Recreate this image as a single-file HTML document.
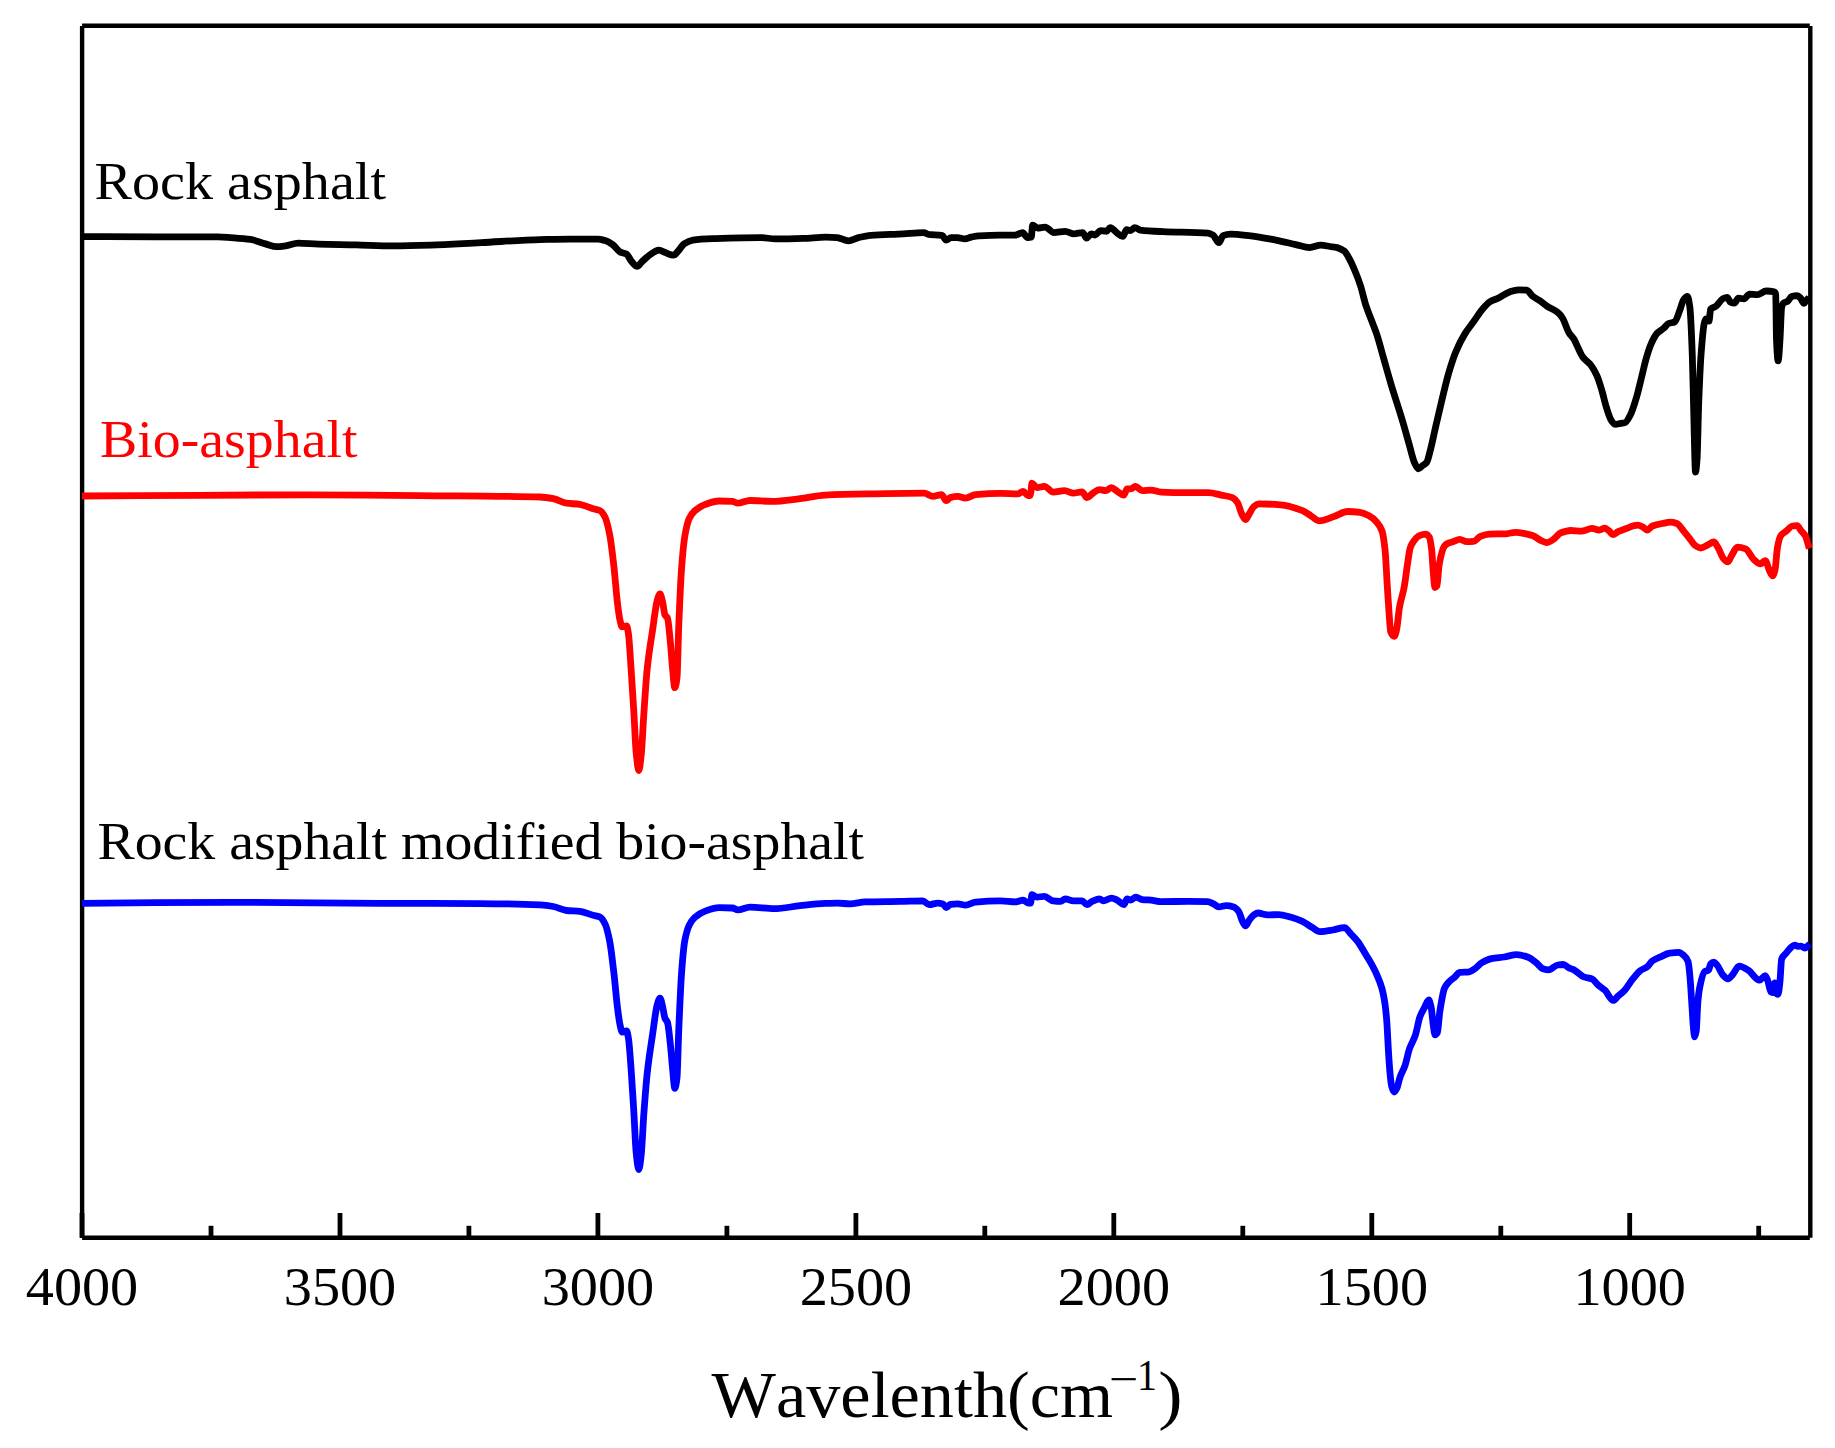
<!DOCTYPE html>
<html lang="en"><head><meta charset="utf-8"><title>FTIR spectra</title>
<style>
html,body{margin:0;padding:0;background:#fff;}
body{width:1835px;height:1448px;overflow:hidden;}
svg{display:block;}
text{font-family:"Liberation Serif",serif;font-variant-ligatures:none;}
</style></head><body>
<svg width="1835" height="1448" viewBox="0 0 1835 1448">
<rect x="0" y="0" width="1835" height="1448" fill="#fff"/>
<g id="frame" stroke="#000" stroke-width="4.4" fill="none">
<line x1="82.1" y1="26" x2="82.1" y2="1237.8"/>
<line x1="82.1" y1="25.7" x2="1809.8" y2="25.7"/>
<line x1="1810.3" y1="26.1" x2="1810.3" y2="1237.8"/>
<line x1="82.1" y1="1237.8" x2="1809.8" y2="1237.8"/>
<line x1="82.0" y1="1237.8" x2="82.0" y2="1213" stroke-width="4.8"/>
<line x1="211.0" y1="1237.8" x2="211.0" y2="1225.8" stroke-width="4.8"/>
<line x1="340.0" y1="1237.8" x2="340.0" y2="1213" stroke-width="4.8"/>
<line x1="468.9" y1="1237.8" x2="468.9" y2="1225.8" stroke-width="4.8"/>
<line x1="597.9" y1="1237.8" x2="597.9" y2="1213" stroke-width="4.8"/>
<line x1="726.9" y1="1237.8" x2="726.9" y2="1225.8" stroke-width="4.8"/>
<line x1="855.9" y1="1237.8" x2="855.9" y2="1213" stroke-width="4.8"/>
<line x1="984.8" y1="1237.8" x2="984.8" y2="1225.8" stroke-width="4.8"/>
<line x1="1113.8" y1="1237.8" x2="1113.8" y2="1213" stroke-width="4.8"/>
<line x1="1242.8" y1="1237.8" x2="1242.8" y2="1225.8" stroke-width="4.8"/>
<line x1="1371.8" y1="1237.8" x2="1371.8" y2="1213" stroke-width="4.8"/>
<line x1="1500.8" y1="1237.8" x2="1500.8" y2="1225.8" stroke-width="4.8"/>
<line x1="1629.7" y1="1237.8" x2="1629.7" y2="1213" stroke-width="4.8"/>
<line x1="1758.7" y1="1237.8" x2="1758.7" y2="1225.8" stroke-width="4.8"/>
</g>
<g id="curves">
<path d="M82.0,236.6 C106.4,236.7 130.8,236.9 155.2,236.9 C176.1,236.9 197.0,236.9 217.9,236.9 C222.1,236.9 226.2,237.3 230.4,237.6 C237.1,238.1 243.8,238.5 250.5,239.4 C255.5,240.1 260.5,242.6 265.5,243.9 C269.3,244.9 273.0,246.6 276.8,246.6 C279.7,246.6 282.7,246.2 285.6,245.9 C289.8,245.4 293.9,243.1 298.1,243.1 C304.8,243.1 311.5,243.9 318.2,244.1 C330.7,244.5 343.3,244.6 355.8,244.9 C368.3,245.2 380.9,245.9 393.4,245.9 C405.9,245.9 418.5,245.5 431.0,245.1 C447.7,244.6 464.4,243.4 481.1,242.6 C500.7,241.6 520.4,240.1 540.0,239.6 C550.0,239.4 560.1,239.1 570.1,239.1 C579.3,239.1 588.5,239.1 597.7,239.1 C600.2,239.1 602.7,239.9 605.2,240.6 C607.7,241.3 610.2,242.9 612.7,244.6 C615.2,246.3 617.7,250.9 620.2,252.1 C622.3,253.1 624.4,253.0 626.5,254.1 C628.2,255.0 629.8,259.6 631.5,261.4 C633.4,263.5 635.4,266.4 637.3,266.4 C638.7,266.4 640.1,263.5 641.5,262.2 C643.6,260.2 645.7,257.9 647.8,256.4 C651.6,253.7 655.3,250.1 659.1,250.1 C661.2,250.1 663.2,251.9 665.3,252.6 C668.1,253.6 670.8,255.2 673.6,255.2 C675.0,255.2 676.5,252.9 677.9,251.4 C680.0,249.3 682.0,245.3 684.1,243.9 C687.0,242.0 690.0,240.5 692.9,240.1 C700.4,239.1 708.0,238.9 715.5,238.6 C730.5,238.1 745.6,237.6 760.6,237.6 C765.6,237.6 770.6,238.9 775.6,238.9 C784.8,238.9 794.0,238.7 803.2,238.4 C810.7,238.2 818.3,237.1 825.8,237.1 C829.6,237.1 833.3,237.3 837.1,237.6 C840.9,237.9 844.6,240.9 848.4,240.9 C851.7,240.9 855.1,238.4 858.4,237.6 C862.6,236.6 866.7,235.6 870.9,235.3 C881.8,234.4 892.6,234.4 903.5,233.8 C910.2,233.4 916.9,232.6 923.6,232.6 C925.3,232.6 926.9,234.0 928.6,234.3 C933.2,235.0 937.8,234.6 942.4,235.6 C943.6,235.9 944.9,240.1 946.1,240.1 C947.8,240.1 949.4,237.6 951.1,237.6 C953.2,237.6 955.3,237.6 957.4,237.6 C959.9,237.6 962.4,238.9 964.9,238.9 C967.0,238.9 969.1,237.6 971.2,237.1 C973.7,236.6 976.2,236.0 978.7,235.8 C985.8,235.4 992.9,235.1 1000.0,235.1 C1005.0,235.1 1010.0,235.1 1015.0,235.1 C1017.5,235.1 1020.1,232.6 1022.6,232.6 C1024.3,232.6 1025.9,237.6 1027.6,237.6 C1028.8,237.6 1030.1,237.5 1031.3,237.1 C1031.7,237.0 1032.2,225.1 1032.6,225.1 C1034.3,225.1 1035.9,228.1 1037.6,228.1 C1040.1,228.1 1042.6,227.1 1045.1,227.1 C1048.0,227.1 1051.0,232.6 1053.9,232.6 C1057.7,232.6 1061.4,231.3 1065.2,231.3 C1068.1,231.3 1071.1,233.8 1074.0,233.8 C1076.9,233.8 1079.8,232.6 1082.7,232.6 C1084.0,232.6 1085.2,238.1 1086.5,238.1 C1088.2,238.1 1089.8,233.8 1091.5,233.8 C1092.8,233.8 1094.0,235.1 1095.3,235.1 C1097.0,235.1 1098.6,230.6 1100.3,230.6 C1102.4,230.6 1104.4,231.3 1106.5,231.3 C1107.8,231.3 1109.0,227.6 1110.3,227.6 C1112.4,227.6 1114.5,231.1 1116.6,232.6 C1118.7,234.0 1120.7,236.4 1122.8,236.4 C1124.1,236.4 1125.3,229.6 1126.6,229.6 C1127.9,229.6 1129.1,230.6 1130.4,230.6 C1131.9,230.6 1133.4,227.6 1134.9,227.6 C1136.7,227.6 1138.6,229.8 1140.4,230.1 C1147.9,231.1 1155.5,231.3 1163.0,231.6 C1178.0,232.3 1193.1,231.9 1208.1,233.1 C1209.8,233.2 1211.4,234.1 1213.1,235.1 C1215.0,236.3 1217.0,242.6 1218.9,242.6 C1220.3,242.6 1221.7,236.1 1223.1,235.6 C1225.6,234.6 1228.1,234.1 1230.6,234.1 C1237.3,234.1 1244.0,235.1 1250.7,235.8 C1259.1,236.7 1267.4,238.5 1275.8,240.1 C1282.5,241.4 1289.1,243.1 1295.8,244.6 C1300.4,245.6 1305.0,247.6 1309.6,247.6 C1313.4,247.6 1317.1,245.1 1320.9,245.1 C1323.9,245.1 1327.0,246.0 1330.0,246.5 C1332.4,246.9 1334.8,247.0 1337.2,247.6 C1339.6,248.2 1342.0,249.3 1344.4,251.2 C1346.2,252.6 1348.0,256.3 1349.8,259.6 C1351.6,262.8 1353.3,267.0 1355.1,271.3 C1356.9,275.6 1358.7,280.2 1360.5,285.7 C1362.3,291.2 1364.1,299.9 1365.9,305.4 C1367.7,310.9 1369.5,315.0 1371.3,319.8 C1373.1,324.6 1374.9,328.7 1376.7,334.1 C1379.1,341.3 1381.5,350.9 1383.9,359.3 C1386.3,367.7 1388.7,376.4 1391.1,384.4 C1394.7,396.3 1398.2,406.6 1401.8,418.5 C1404.2,426.5 1406.6,435.3 1409.0,443.7 C1410.8,450.0 1412.6,458.6 1414.4,462.5 C1415.7,465.3 1417.0,468.8 1418.3,468.8 C1419.7,468.8 1421.1,466.7 1422.5,465.6 C1423.9,464.6 1425.2,464.2 1426.6,462.5 C1427.9,460.9 1429.3,454.1 1430.6,449.1 C1432.4,442.4 1434.1,433.4 1435.9,425.7 C1438.0,416.6 1440.1,407.5 1442.2,398.8 C1444.3,390.1 1446.4,380.9 1448.5,373.7 C1450.9,365.5 1453.3,357.9 1455.7,352.1 C1458.7,344.8 1461.7,339.0 1464.7,334.1 C1467.7,329.2 1470.7,325.8 1473.7,321.6 C1476.7,317.4 1479.6,312.5 1482.6,309.0 C1485.0,306.2 1487.4,303.3 1489.8,301.8 C1492.8,300.0 1495.8,299.4 1498.8,297.9 C1502.4,296.2 1506.0,293.1 1509.6,291.9 C1512.6,290.9 1515.5,289.8 1518.5,289.8 C1521.2,289.8 1523.9,289.9 1526.6,290.2 C1528.7,290.4 1530.8,294.8 1532.9,296.4 C1535.3,298.2 1537.7,299.3 1540.1,300.9 C1542.5,302.5 1544.9,304.7 1547.3,306.3 C1550.9,308.7 1554.4,309.6 1558.0,312.6 C1559.5,313.8 1561.0,315.7 1562.5,318.0 C1564.6,321.2 1566.7,328.9 1568.8,332.4 C1570.6,335.4 1572.4,336.5 1574.2,339.5 C1574.9,340.7 1575.7,342.7 1576.4,344.2 C1578.5,348.6 1580.6,354.1 1582.7,356.9 C1585.3,360.5 1588.0,361.4 1590.6,364.8 C1592.7,367.5 1594.9,371.2 1597.0,375.9 C1598.6,379.5 1600.2,384.9 1601.8,390.2 C1603.4,395.4 1604.9,402.9 1606.5,407.7 C1608.1,412.7 1609.7,418.1 1611.3,420.4 C1612.6,422.3 1614.0,424.4 1615.3,424.4 C1617.1,424.4 1619.0,423.6 1620.8,423.3 C1622.1,423.1 1623.5,423.1 1624.8,422.8 C1626.7,422.4 1628.5,418.4 1630.4,414.9 C1632.5,410.9 1634.6,403.7 1636.7,396.6 C1638.3,391.2 1639.9,383.9 1641.5,377.5 C1643.1,371.2 1644.6,363.9 1646.2,358.5 C1647.8,353.0 1649.4,347.9 1651.0,344.2 C1652.9,339.9 1654.7,336.0 1656.6,333.9 C1659.0,331.2 1661.3,330.4 1663.7,328.3 C1665.3,326.9 1666.9,324.2 1668.5,323.5 C1670.6,322.6 1672.7,322.9 1674.8,321.9 C1676.4,321.1 1678.0,314.8 1679.6,310.8 C1680.9,307.4 1682.3,301.4 1683.6,299.7 C1684.9,298.1 1686.2,296.5 1687.5,296.5 C1688.3,296.5 1689.1,301.6 1689.9,307.6 C1690.7,313.6 1691.5,333.6 1692.3,355.3 C1692.8,369.7 1693.4,399.5 1693.9,418.8 C1694.4,438.1 1695.0,472.0 1695.5,472.0 C1696.0,472.0 1696.6,465.7 1697.1,458.5 C1697.6,451.3 1698.2,416.9 1698.7,402.9 C1699.5,382.7 1700.2,365.8 1701.0,355.3 C1702.1,340.7 1703.1,328.1 1704.2,323.5 C1704.7,321.2 1705.3,318.8 1705.8,318.8 C1706.9,318.8 1707.9,321.2 1709.0,321.2 C1709.5,321.2 1710.1,309.9 1710.6,309.2 C1712.4,306.9 1714.3,307.5 1716.1,306.1 C1718.2,304.5 1720.4,300.0 1722.5,298.9 C1724.1,298.1 1725.6,297.3 1727.2,297.3 C1728.3,297.3 1729.3,301.6 1730.4,302.1 C1731.7,302.7 1733.1,303.2 1734.4,303.2 C1735.7,303.2 1737.1,298.1 1738.4,298.1 C1740.2,298.1 1742.1,298.9 1743.9,298.9 C1745.8,298.9 1747.6,294.1 1749.5,294.1 C1752.1,294.1 1754.8,294.6 1757.4,294.6 C1760.3,294.6 1763.3,291.0 1766.2,291.0 C1768.8,291.0 1771.5,291.2 1774.1,291.8 C1774.6,291.9 1775.2,292.4 1775.7,294.1 C1776.0,294.9 1776.2,333.2 1776.5,339.4 C1777.0,351.8 1777.6,360.9 1778.1,360.9 C1778.7,360.9 1779.4,348.6 1780.0,339.4 C1780.5,331.6 1781.1,309.9 1781.6,307.6 C1782.3,304.7 1782.9,303.4 1783.6,302.9 C1784.9,301.9 1786.3,302.1 1787.6,301.3 C1788.9,300.5 1790.3,296.9 1791.6,296.5 C1793.4,296.0 1795.3,295.7 1797.1,295.7 C1798.2,295.7 1799.4,296.9 1800.5,298.0 C1801.6,299.1 1802.8,303.4 1803.9,303.4 C1804.9,303.4 1805.8,301.1 1806.8,300.0 C1807.6,299.1 1808.4,298.3 1809.2,297.4" fill="none" stroke="#000000" stroke-width="6.8" stroke-linejoin="round" stroke-linecap="butt"/>
<path d="M82.0,496.0 C121.3,495.8 160.7,495.6 200.0,495.4 C236.7,495.2 273.3,494.8 310.0,494.8 C346.7,494.8 383.3,495.3 420.0,495.6 C460.0,496.0 500.0,495.9 540.0,497.0 C544.4,497.1 548.9,497.9 553.3,498.7 C557.7,499.5 562.1,502.6 566.5,503.2 C570.9,503.8 575.4,503.7 579.8,504.3 C584.2,504.9 588.7,507.4 593.1,508.7 C595.3,509.4 597.5,509.5 599.7,510.5 C601.5,511.3 603.4,513.9 605.2,517.5 C606.7,520.3 608.1,526.7 609.6,534.1 C611.1,541.5 612.5,554.4 614.0,567.3 C615.1,577.3 616.3,593.4 617.4,602.6 C618.3,609.7 619.1,616.7 620.0,620.3 C620.7,623.3 621.5,626.9 622.2,626.9 C623.7,626.9 625.1,625.8 626.6,625.8 C627.2,625.8 627.8,629.8 628.4,633.6 C629.3,639.3 630.2,656.0 631.1,668.9 C632.0,682.2 633.0,697.7 633.9,713.1 C634.7,725.8 635.4,745.3 636.2,752.9 C637.1,761.4 637.9,770.6 638.8,770.6 C639.6,770.6 640.4,762.3 641.2,755.1 C642.1,747.0 643.0,726.1 643.9,713.1 C645.0,697.2 646.1,679.5 647.2,668.9 C649.0,651.3 650.9,641.6 652.7,629.2 C654.2,619.0 655.7,605.4 657.2,600.4 C658.1,597.3 659.1,593.8 660.0,593.8 C660.9,593.8 661.8,598.9 662.7,602.6 C663.4,605.6 664.2,613.3 664.9,614.8 C665.8,616.6 666.6,616.2 667.5,618.1 C668.5,620.2 669.4,632.8 670.4,642.4 C671.1,649.7 671.9,661.6 672.6,668.9 C673.3,676.2 674.1,687.7 674.8,687.7 C675.5,687.7 676.3,683.7 677.0,677.8 C677.6,673.0 678.2,639.4 678.8,624.7 C679.7,602.7 680.6,581.8 681.5,569.5 C682.6,554.5 683.7,542.8 684.8,536.3 C686.3,527.7 687.7,521.7 689.2,518.6 C691.0,514.7 692.9,512.5 694.7,510.9 C698.4,507.7 702.1,505.6 705.8,504.3 C710.2,502.7 714.6,501.0 719.0,501.0 C723.4,501.0 727.9,501.1 732.3,501.4 C734.1,501.5 736.0,503.2 737.8,503.2 C741.9,503.2 745.9,500.5 750.0,500.5 C757.4,500.5 764.7,501.4 772.1,501.4 C781.4,501.4 790.7,499.7 800.0,498.6 C808.4,497.6 816.7,495.5 825.1,495.1 C841.8,494.3 858.5,494.1 875.2,493.8 C891.5,493.5 907.8,493.1 924.1,493.1 C927.0,493.1 930.0,496.4 932.9,496.4 C935.8,496.4 938.7,494.6 941.6,494.6 C943.1,494.6 944.7,500.6 946.2,500.6 C947.6,500.6 949.0,498.0 950.4,497.6 C952.9,496.9 955.4,496.4 957.9,496.4 C960.4,496.4 963.0,498.1 965.5,498.1 C968.8,498.1 972.2,494.9 975.5,494.6 C983.9,493.8 992.2,493.3 1000.6,493.3 C1006.4,493.3 1012.3,493.8 1018.1,493.8 C1019.8,493.8 1021.4,491.3 1023.1,491.3 C1024.8,491.3 1026.4,495.6 1028.1,495.6 C1028.9,495.6 1029.8,495.5 1030.6,495.1 C1031.0,494.9 1031.5,483.1 1031.9,483.1 C1033.6,483.1 1035.2,487.6 1036.9,487.6 C1039.4,487.6 1041.9,486.3 1044.4,486.3 C1047.3,486.3 1050.3,492.1 1053.2,492.1 C1057.0,492.1 1060.7,490.6 1064.5,490.6 C1067.4,490.6 1070.4,493.1 1073.3,493.1 C1076.2,493.1 1079.1,491.8 1082.0,491.8 C1083.7,491.8 1085.3,497.6 1087.0,497.6 C1088.7,497.6 1090.4,494.9 1092.1,493.8 C1094.6,492.2 1097.1,489.6 1099.6,489.6 C1101.7,489.6 1103.7,490.6 1105.8,490.6 C1107.7,490.6 1109.5,487.6 1111.4,487.6 C1113.3,487.6 1115.2,490.2 1117.1,491.3 C1119.4,492.7 1121.6,495.1 1123.9,495.1 C1125.0,495.1 1126.0,488.8 1127.1,488.8 C1128.4,488.8 1129.6,488.8 1130.9,488.8 C1132.4,488.8 1133.9,486.3 1135.4,486.3 C1137.7,486.3 1139.9,490.6 1142.2,490.6 C1145.1,490.6 1148.1,490.1 1151.0,490.1 C1154.3,490.1 1157.7,492.0 1161.0,492.1 C1170.2,492.5 1179.4,492.6 1188.6,492.6 C1195.3,492.6 1201.9,492.6 1208.6,492.6 C1212.8,492.6 1217.0,494.2 1221.2,495.1 C1224.9,495.9 1228.7,496.1 1232.4,497.6 C1234.1,498.3 1235.8,500.1 1237.5,502.6 C1238.9,504.6 1240.3,511.2 1241.7,513.9 C1243.0,516.4 1244.2,519.7 1245.5,519.7 C1246.7,519.7 1248.0,515.8 1249.2,513.9 C1250.7,511.5 1252.3,507.8 1253.8,506.6 C1255.6,505.2 1257.4,503.9 1259.2,503.9 C1266.3,503.9 1273.4,504.3 1280.5,504.8 C1287.6,505.3 1294.8,507.7 1301.9,510.4 C1304.9,511.6 1308.0,514.0 1311.0,515.8 C1313.8,517.5 1316.6,520.8 1319.4,520.8 C1324.2,520.8 1329.1,518.1 1333.9,516.5 C1338.5,515.0 1343.1,511.5 1347.7,511.5 C1351.8,511.5 1355.8,511.9 1359.9,512.4 C1362.9,512.8 1366.0,514.2 1369.0,515.8 C1371.5,517.1 1374.1,519.1 1376.6,521.9 C1378.4,523.9 1380.2,526.0 1382.0,531.0 C1383.0,533.8 1384.0,540.3 1385.0,549.3 C1385.8,556.2 1386.5,574.0 1387.3,586.0 C1387.9,595.9 1388.6,606.9 1389.2,615.0 C1389.7,621.4 1390.2,630.4 1390.7,631.7 C1391.9,634.8 1393.0,636.3 1394.2,636.3 C1395.0,636.3 1395.7,633.2 1396.5,630.2 C1397.5,626.3 1398.5,612.9 1399.5,607.3 C1401.0,598.7 1402.6,595.7 1404.1,587.5 C1405.4,580.8 1406.6,569.5 1407.9,561.5 C1408.7,556.6 1409.4,550.1 1410.2,547.8 C1411.2,544.7 1412.3,543.1 1413.3,541.7 C1415.3,538.9 1417.4,536.4 1419.4,535.6 C1421.4,534.8 1423.5,534.1 1425.5,534.1 C1426.8,534.1 1428.0,535.2 1429.3,537.1 C1430.1,538.2 1430.8,543.3 1431.6,549.3 C1432.2,554.0 1432.8,567.3 1433.4,573.8 C1433.9,579.2 1434.4,587.5 1434.9,587.5 C1435.6,587.5 1436.2,586.9 1436.9,586.0 C1437.7,585.0 1438.4,568.8 1439.2,564.6 C1440.9,555.3 1442.6,548.6 1444.3,546.3 C1445.3,544.9 1446.3,544.1 1447.3,543.6 C1449.2,542.6 1451.0,542.3 1452.9,541.7 C1455.2,540.9 1457.5,539.4 1459.8,539.4 C1462.1,539.4 1464.4,541.7 1466.7,541.7 C1469.0,541.7 1471.2,541.6 1473.5,541.4 C1475.8,541.2 1478.1,537.3 1480.4,536.4 C1483.4,535.2 1486.5,534.2 1489.5,534.1 C1495.1,533.9 1500.7,534.0 1506.3,533.8 C1509.4,533.7 1512.4,532.3 1515.5,532.3 C1518.7,532.3 1521.8,533.0 1525.0,533.6 C1527.7,534.1 1530.4,534.8 1533.1,535.8 C1535.8,536.8 1538.6,539.5 1541.3,540.7 C1543.2,541.5 1545.1,542.6 1547.0,542.6 C1548.9,542.6 1550.8,541.0 1552.7,539.9 C1555.4,538.3 1558.2,533.8 1560.9,532.8 C1564.2,531.6 1567.4,530.5 1570.7,530.5 C1574.2,530.5 1577.8,531.2 1581.3,531.2 C1584.8,531.2 1588.4,528.4 1591.9,528.4 C1594.4,528.4 1596.8,530.1 1599.3,530.1 C1601.2,530.1 1603.1,528.1 1605.0,528.1 C1606.4,528.1 1607.7,529.8 1609.1,530.9 C1610.4,531.9 1611.6,534.5 1612.9,534.5 C1614.6,534.5 1616.4,532.5 1618.1,531.7 C1620.8,530.4 1623.6,529.3 1626.3,528.4 C1630.1,527.1 1633.9,525.1 1637.7,525.1 C1639.3,525.1 1641.0,526.0 1642.6,526.8 C1644.1,527.5 1645.7,530.1 1647.2,530.1 C1648.9,530.1 1650.7,526.7 1652.4,526.0 C1655.7,524.7 1658.9,524.1 1662.2,523.5 C1664.9,523.0 1667.7,522.2 1670.4,522.2 C1672.6,522.2 1674.7,522.8 1676.9,523.5 C1679.1,524.2 1681.3,528.3 1683.5,530.9 C1685.7,533.5 1687.8,536.3 1690.0,539.0 C1691.6,541.1 1693.3,544.2 1694.9,545.3 C1696.8,546.6 1698.7,548.0 1700.6,548.0 C1703.1,548.0 1705.5,545.9 1708.0,544.8 C1709.9,543.9 1711.8,542.0 1713.7,542.0 C1715.1,542.0 1716.4,545.1 1717.8,547.2 C1719.7,550.1 1721.6,556.7 1723.5,558.7 C1725.0,560.2 1726.4,561.9 1727.9,561.9 C1729.2,561.9 1730.4,557.4 1731.7,555.4 C1733.6,552.4 1735.5,547.2 1737.4,547.2 C1740.1,547.2 1742.9,547.9 1745.6,548.9 C1748.3,549.9 1751.1,557.1 1753.8,559.5 C1756.0,561.4 1758.1,563.9 1760.3,563.9 C1761.9,563.9 1763.6,560.6 1765.2,560.6 C1766.6,560.6 1767.9,567.4 1769.3,570.1 C1770.4,572.3 1771.5,575.8 1772.6,575.8 C1773.4,575.8 1774.2,573.1 1775.0,570.1 C1775.8,567.0 1776.7,551.6 1777.5,547.2 C1778.6,541.6 1779.6,537.3 1780.7,535.8 C1782.6,533.0 1784.6,532.5 1786.5,530.9 C1788.4,529.3 1790.3,526.3 1792.2,526.0 C1793.8,525.8 1795.5,525.6 1797.1,525.6 C1798.5,525.6 1799.8,529.2 1801.2,530.9 C1802.6,532.6 1803.9,533.4 1805.3,535.8 C1806.1,537.2 1806.8,540.0 1807.6,542.5 C1808.2,544.3 1808.7,546.6 1809.3,548.6" fill="none" stroke="#ff0000" stroke-width="6.8" stroke-linejoin="round" stroke-linecap="butt"/>
<path d="M82.0,903.3 C131.3,903.0 180.7,902.3 230.0,902.3 C280.0,902.3 330.0,903.1 380.0,903.3 C413.3,903.4 446.7,903.4 480.0,903.6 C500.0,903.7 520.0,904.0 540.0,904.9 C544.4,905.1 548.9,905.7 553.3,906.5 C557.7,907.3 562.1,910.1 566.5,910.5 C570.9,910.9 575.4,910.9 579.8,911.3 C584.2,911.7 588.7,914.1 593.1,915.3 C595.3,915.9 597.5,916.0 599.7,916.9 C601.5,917.7 603.4,920.5 605.2,924.2 C606.7,927.1 608.1,933.4 609.6,940.7 C611.1,948.0 612.5,961.4 614.0,973.9 C615.1,983.6 616.3,998.0 617.4,1007.0 C618.3,1013.9 619.1,1020.9 620.0,1024.7 C620.7,1027.9 621.5,1032.0 622.2,1032.0 C623.7,1032.0 625.1,1030.9 626.6,1030.9 C627.2,1030.9 627.8,1034.6 628.4,1038.0 C629.3,1043.1 630.2,1057.0 631.1,1068.9 C632.0,1081.3 633.0,1097.7 633.9,1113.1 C634.7,1125.8 635.4,1145.7 636.2,1152.9 C637.1,1161.1 637.9,1169.5 638.8,1169.5 C639.6,1169.5 640.4,1162.0 641.2,1155.1 C642.1,1147.4 643.0,1125.4 643.9,1113.1 C645.0,1098.1 646.1,1083.6 647.2,1073.4 C649.0,1056.5 650.9,1046.0 652.7,1033.6 C654.2,1023.4 655.7,1009.8 657.2,1004.8 C658.1,1001.7 659.1,998.2 660.0,998.2 C660.9,998.2 661.8,1003.4 662.7,1007.0 C663.4,1009.9 664.2,1016.2 664.9,1018.1 C665.8,1020.3 666.6,1020.1 667.5,1022.5 C668.5,1025.1 669.4,1035.8 670.4,1044.6 C671.1,1051.3 671.9,1061.7 672.6,1068.9 C673.3,1076.1 674.1,1088.4 674.8,1088.4 C675.5,1088.4 676.3,1083.9 677.0,1077.8 C677.6,1072.8 678.2,1043.2 678.8,1029.1 C679.7,1007.9 680.6,986.2 681.5,973.9 C682.6,958.9 683.7,946.5 684.8,940.7 C686.3,932.9 687.7,928.3 689.2,925.3 C691.0,921.5 692.9,919.1 694.7,917.5 C698.4,914.3 702.1,912.2 705.8,910.9 C710.2,909.3 714.6,907.6 719.0,907.6 C723.4,907.6 727.9,907.7 732.3,908.0 C734.1,908.1 736.0,909.8 737.8,909.8 C741.9,909.8 745.9,907.1 750.0,907.1 C758.1,907.1 766.2,908.7 774.3,908.7 C782.9,908.7 791.4,906.6 800.0,905.7 C808.4,904.8 816.7,903.7 825.1,903.4 C829.3,903.3 833.4,903.1 837.6,903.1 C841.8,903.1 845.9,903.9 850.1,903.9 C855.1,903.9 860.2,902.0 865.2,901.9 C876.9,901.6 888.6,901.6 900.3,901.4 C907.8,901.3 915.3,900.9 922.8,900.9 C924.9,900.9 927.0,904.6 929.1,904.6 C932.0,904.6 935.0,903.1 937.9,903.1 C939.6,903.1 941.2,903.4 942.9,903.9 C944.0,904.2 945.1,907.6 946.2,907.6 C947.6,907.6 949.0,904.6 950.4,904.4 C952.9,904.1 955.4,903.9 957.9,903.9 C960.4,903.9 963.0,905.1 965.5,905.1 C968.8,905.1 972.2,902.4 975.5,902.1 C983.9,901.3 992.2,900.9 1000.6,900.9 C1005.6,900.9 1010.6,901.9 1015.6,901.9 C1018.1,901.9 1020.6,900.1 1023.1,900.1 C1024.8,900.1 1026.4,903.1 1028.1,903.1 C1028.9,903.1 1029.8,903.1 1030.6,903.1 C1031.0,903.1 1031.5,894.6 1031.9,894.6 C1033.6,894.6 1035.2,897.1 1036.9,897.1 C1039.4,897.1 1041.9,896.4 1044.4,896.4 C1047.3,896.4 1050.3,900.6 1053.2,900.9 C1055.7,901.2 1058.2,901.4 1060.7,901.4 C1062.2,901.4 1063.7,898.9 1065.2,898.9 C1067.9,898.9 1070.6,900.9 1073.3,900.9 C1076.2,900.9 1079.1,900.9 1082.0,900.9 C1083.7,900.9 1085.3,904.6 1087.0,904.6 C1088.7,904.6 1090.4,902.2 1092.1,901.4 C1094.6,900.3 1097.1,898.9 1099.6,898.9 C1100.8,898.9 1102.1,900.9 1103.3,900.9 C1106.0,900.9 1108.7,898.1 1111.4,898.1 C1113.3,898.1 1115.2,899.2 1117.1,900.1 C1119.4,901.1 1121.6,904.6 1123.9,904.6 C1125.0,904.6 1126.0,898.9 1127.1,898.9 C1128.4,898.9 1129.6,900.1 1130.9,900.1 C1132.6,900.1 1134.2,897.1 1135.9,897.1 C1138.0,897.1 1140.1,899.4 1142.2,899.6 C1145.1,899.9 1148.1,899.9 1151.0,900.1 C1154.3,900.4 1157.7,901.6 1161.0,901.6 C1170.2,901.6 1179.4,901.4 1188.6,901.4 C1194.9,901.4 1201.1,901.4 1207.4,901.6 C1209.5,901.7 1211.5,903.0 1213.6,903.9 C1215.3,904.7 1217.0,906.9 1218.7,906.9 C1221.2,906.9 1223.7,905.6 1226.2,905.6 C1228.7,905.6 1231.2,906.1 1233.7,906.9 C1235.4,907.4 1237.0,909.1 1238.7,911.4 C1240.0,913.1 1241.2,919.0 1242.5,921.4 C1243.5,923.3 1244.5,925.9 1245.5,925.9 C1246.7,925.9 1248.0,921.8 1249.2,920.2 C1250.8,918.1 1252.4,916.0 1254.0,914.9 C1255.3,914.0 1256.6,913.0 1257.9,913.0 C1261.1,913.0 1264.3,914.9 1267.5,914.9 C1271.2,914.9 1274.9,914.6 1278.6,914.6 C1282.8,914.6 1287.1,916.2 1291.3,917.3 C1295.0,918.3 1298.7,919.6 1302.4,921.3 C1305.6,922.8 1308.7,925.5 1311.9,927.3 C1314.6,928.8 1317.2,931.6 1319.9,931.6 C1324.1,931.6 1328.4,930.7 1332.6,930.0 C1336.6,929.4 1340.5,927.6 1344.5,927.6 C1346.6,927.6 1348.8,931.8 1350.9,934.0 C1353.3,936.5 1355.6,938.8 1358.0,941.9 C1360.1,944.7 1362.3,948.8 1364.4,952.3 C1366.5,955.7 1368.6,958.8 1370.7,962.6 C1372.8,966.4 1375.0,970.4 1377.1,975.3 C1378.7,978.9 1380.2,982.4 1381.8,988.0 C1382.9,991.8 1383.9,996.6 1385.0,1003.9 C1385.6,1008.2 1386.3,1014.5 1386.9,1022.9 C1387.3,1028.6 1387.8,1039.6 1388.2,1046.8 C1388.7,1055.6 1389.3,1064.8 1389.8,1070.6 C1390.4,1077.4 1391.1,1084.2 1391.7,1086.5 C1392.5,1089.5 1393.4,1092.0 1394.2,1092.0 C1395.1,1092.0 1396.0,1089.9 1396.9,1088.1 C1398.0,1085.9 1399.0,1080.0 1400.1,1077.0 C1401.7,1072.5 1403.3,1070.4 1404.9,1065.8 C1406.5,1061.3 1408.0,1052.8 1409.6,1048.4 C1411.5,1043.1 1413.3,1041.1 1415.2,1035.7 C1416.8,1031.0 1418.4,1020.9 1420.0,1016.6 C1421.6,1012.4 1423.1,1010.1 1424.7,1007.1 C1426.0,1004.6 1427.4,999.9 1428.7,999.9 C1429.5,999.9 1430.3,1003.6 1431.1,1007.1 C1431.9,1010.5 1432.6,1021.1 1433.4,1026.1 C1433.9,1029.6 1434.5,1034.9 1435.0,1034.9 C1435.8,1034.9 1436.6,1033.9 1437.4,1032.5 C1438.2,1031.1 1439.0,1017.0 1439.8,1011.8 C1441.4,1001.4 1443.0,991.5 1444.6,988.0 C1445.9,985.2 1447.2,983.8 1448.5,982.4 C1450.6,980.1 1452.8,978.8 1454.9,976.9 C1456.5,975.5 1458.1,972.6 1459.7,972.4 C1462.9,972.0 1466.0,972.2 1469.2,971.8 C1471.3,971.5 1473.4,969.7 1475.5,968.2 C1477.6,966.7 1479.8,963.8 1481.9,962.6 C1485.1,960.8 1488.2,959.2 1491.4,958.6 C1495.6,957.8 1499.9,957.6 1504.1,957.0 C1508.3,956.4 1512.6,954.6 1516.8,954.6 C1520.6,954.6 1524.4,955.9 1528.2,957.3 C1530.9,958.3 1533.6,960.7 1536.3,962.8 C1538.5,964.5 1540.7,968.0 1542.9,968.7 C1544.8,969.3 1546.7,969.9 1548.6,969.9 C1551.6,969.9 1554.6,965.4 1557.6,965.0 C1559.5,964.7 1561.4,964.5 1563.3,964.5 C1565.2,964.5 1567.1,967.0 1569.0,967.9 C1570.6,968.7 1572.3,969.1 1573.9,969.9 C1577.2,971.6 1580.5,975.7 1583.8,976.9 C1586.5,977.9 1589.2,977.8 1591.9,978.9 C1594.1,979.8 1596.3,983.5 1598.5,985.4 C1600.7,987.2 1602.8,988.3 1605.0,990.3 C1607.7,992.8 1610.5,1000.4 1613.2,1000.4 C1614.8,1000.4 1616.5,997.5 1618.1,996.0 C1620.3,994.1 1622.4,992.6 1624.6,990.3 C1627.3,987.4 1630.1,982.3 1632.8,978.9 C1635.3,975.9 1637.7,972.5 1640.2,970.7 C1642.6,968.9 1645.1,968.5 1647.5,966.6 C1649.1,965.3 1650.8,962.1 1652.4,960.9 C1655.1,958.9 1657.9,958.0 1660.6,956.8 C1663.6,955.5 1666.6,953.6 1669.6,953.2 C1672.6,952.8 1675.6,952.4 1678.6,952.4 C1680.2,952.4 1681.9,953.8 1683.5,955.1 C1685.0,956.3 1686.6,957.6 1688.1,961.7 C1688.7,963.4 1689.4,970.6 1690.0,977.2 C1690.6,983.1 1691.1,993.3 1691.7,1001.7 C1692.2,1009.6 1692.8,1020.7 1693.3,1026.3 C1693.7,1030.9 1694.2,1036.9 1694.6,1036.9 C1695.1,1036.9 1695.7,1034.3 1696.2,1031.2 C1696.8,1027.9 1697.3,1007.8 1697.9,1001.7 C1698.5,994.9 1699.2,990.0 1699.8,987.0 C1701.4,979.2 1703.1,972.6 1704.7,971.5 C1706.1,970.6 1707.4,971.0 1708.8,969.9 C1709.4,969.5 1709.9,964.7 1710.5,964.1 C1711.6,962.9 1712.6,962.2 1713.7,962.2 C1714.8,962.2 1715.9,963.8 1717.0,965.0 C1718.9,967.1 1720.8,972.8 1722.7,974.8 C1724.4,976.7 1726.2,978.9 1727.9,978.9 C1729.4,978.9 1731.0,976.4 1732.5,974.8 C1734.7,972.5 1736.9,966.1 1739.1,966.1 C1742.4,966.1 1745.6,968.5 1748.9,970.7 C1750.8,972.0 1752.7,975.3 1754.6,976.9 C1756.2,978.3 1757.9,980.2 1759.5,980.2 C1761.4,980.2 1763.3,975.6 1765.2,975.6 C1766.0,975.6 1766.9,978.4 1767.7,980.5 C1768.8,983.2 1769.8,991.3 1770.9,991.9 C1771.7,992.4 1772.6,992.7 1773.4,992.7 C1773.8,992.7 1774.3,982.9 1774.7,982.9 C1775.1,982.9 1775.4,991.1 1775.8,991.9 C1776.5,993.5 1777.3,994.4 1778.0,994.4 C1778.6,994.4 1779.3,987.7 1779.9,982.1 C1780.5,977.1 1781.0,960.8 1781.6,959.2 C1783.2,954.7 1784.9,954.8 1786.5,952.7 C1787.9,951.0 1789.2,949.0 1790.6,947.8 C1792.0,946.6 1793.3,945.1 1794.7,945.1 C1795.8,945.1 1797.0,946.4 1798.1,946.4 C1799.1,946.4 1800.0,946.1 1801.0,946.1 C1802.3,946.1 1803.5,948.0 1804.8,948.0 C1806.1,948.0 1807.4,946.1 1808.7,945.1 C1809.1,944.8 1809.5,944.5 1809.9,944.2" fill="none" stroke="#0000ff" stroke-width="6.8" stroke-linejoin="round" stroke-linecap="butt"/>
</g>
<g id="ticklabels" font-size="54.8" fill="#000">
<text x="82.0" y="1304.6" text-anchor="middle" textLength="112.5" lengthAdjust="spacingAndGlyphs">4000</text>
<text x="340.0" y="1304.6" text-anchor="middle" textLength="112.5" lengthAdjust="spacingAndGlyphs">3500</text>
<text x="597.9" y="1304.6" text-anchor="middle" textLength="112.5" lengthAdjust="spacingAndGlyphs">3000</text>
<text x="855.9" y="1304.6" text-anchor="middle" textLength="112.5" lengthAdjust="spacingAndGlyphs">2500</text>
<text x="1113.8" y="1304.6" text-anchor="middle" textLength="112.5" lengthAdjust="spacingAndGlyphs">2000</text>
<text x="1371.8" y="1304.6" text-anchor="middle" textLength="112.5" lengthAdjust="spacingAndGlyphs">1500</text>
<text x="1629.7" y="1304.6" text-anchor="middle" textLength="112.5" lengthAdjust="spacingAndGlyphs">1000</text>
</g>
<g id="labels" font-size="53.5">
<text x="94.5" y="198.9" fill="#000" textLength="291.5" lengthAdjust="spacingAndGlyphs">Rock asphalt</text>
<text x="100" y="457.2" fill="#ff0000" textLength="257.5" lengthAdjust="spacingAndGlyphs">Bio-asphalt</text>
<text x="97.5" y="858.9" fill="#000" textLength="766.5" lengthAdjust="spacingAndGlyphs">Rock asphalt modified bio-asphalt</text>
</g>
<g id="xtitle" fill="#000">
<text x="711.6" y="1416.8" font-size="66" textLength="401.5" lengthAdjust="spacingAndGlyphs" style="font-kerning:none">Wavelenth(cm</text>
<text x="1109.0" y="1394.2" font-size="44.6" textLength="29.3" lengthAdjust="spacingAndGlyphs">−</text>
<text x="1137" y="1390.2" font-size="44.6" textLength="20" lengthAdjust="spacingAndGlyphs">1</text>
<text x="1158.3" y="1416.8" font-size="66" textLength="24.3" lengthAdjust="spacingAndGlyphs">)</text>
</g>
</svg>
</body></html>
